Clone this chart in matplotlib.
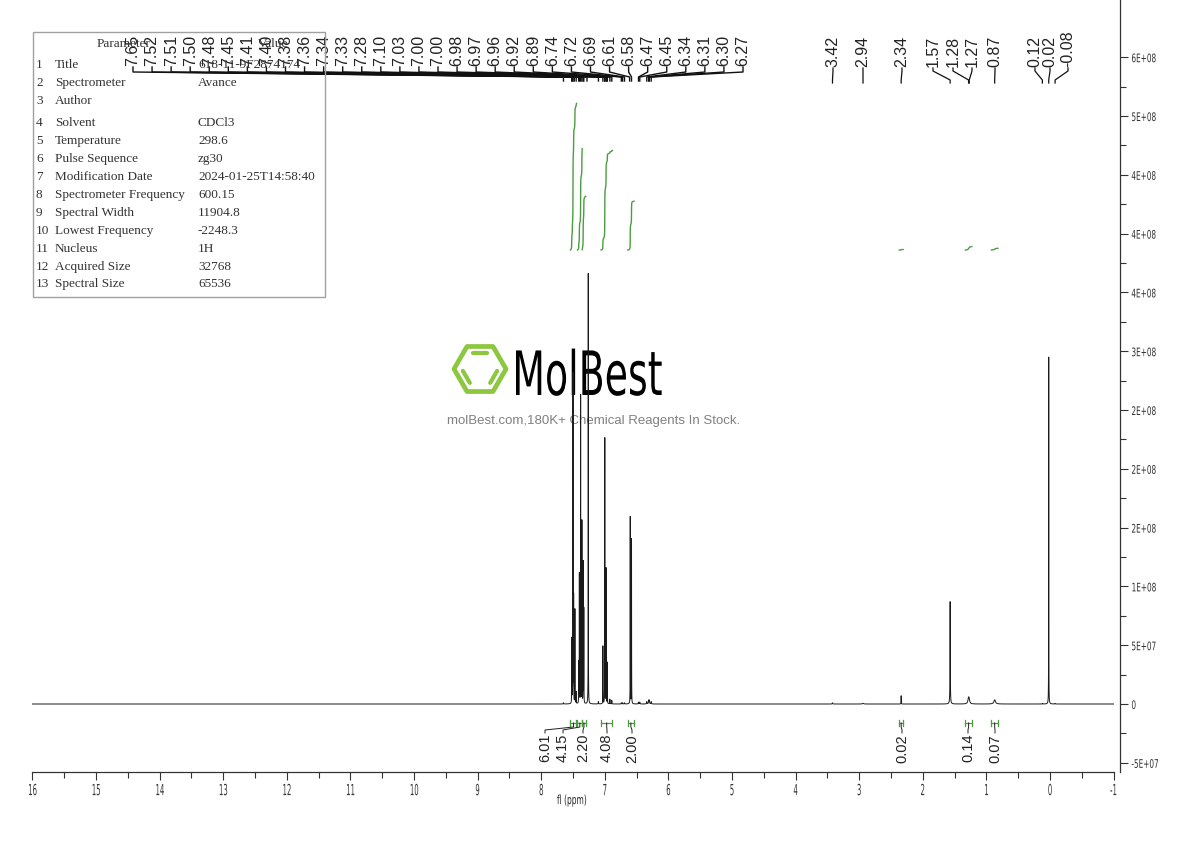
import numpy as np
import matplotlib
matplotlib.use("Agg")
import matplotlib.pyplot as plt
from matplotlib.patheffects import AbstractPathEffect
from matplotlib.transforms import Affine2D
from matplotlib.patches import Polygon, Rectangle
from matplotlib.lines import Line2D

plt.rcParams['path.simplify'] = False

# ---------------- data ----------------
peak_ppm = [7.65, 7.52, 7.51, 7.50, 7.49, 7.47, 7.45,
            7.41, 7.40, 7.38, 7.36, 7.34, 7.33,
            7.26, 7.10,
            7.03, 7.00, 6.98, 6.96, 6.92, 6.89,
            6.74, 6.72, 6.69,
            6.60, 6.58,
            6.47, 6.45, 6.34, 6.31, 6.30, 6.27,
            3.42, 2.94, 2.34, 1.57, 1.28, 1.27, 0.87, 0.12, 0.02, -0.08]
peak_height_1e8 = [0.01, 0.55, 0.45, 2.80, 0.90, 0.80, 0.10,
                   0.35, 1.10, 2.62, 1.55, 1.20, 0.80,
                   3.66, 0.02,
                   0.49, 2.26, 1.15, 0.35, 0.04, 0.03,
                   0.01, 0.01, 0.01,
                   1.59, 1.40,
                   0.015, 0.015, 0.02, 0.03, 0.03, 0.02,
                   0.01, 0.006, 0.07, 0.87, 0.05, 0.02, 0.035, 0.005, 2.95, 0.005]
peak_hwhm = [0.003, 0.0012, 0.0012, 0.0012, 0.0012, 0.0012, 0.0015,
             0.0012, 0.0012, 0.0012, 0.0012, 0.0012, 0.0012,
             0.0012, 0.003,
             0.0012, 0.0012, 0.0012, 0.0012, 0.002, 0.002,
             0.003, 0.003, 0.003,
             0.0012, 0.0012,
             0.004, 0.004, 0.004, 0.004, 0.004, 0.004,
             0.004, 0.01, 0.0015, 0.0025, 0.012, 0.01, 0.015, 0.003, 0.0012, 0.003]

left_shift_labels = [7.65, 7.52, 7.51, 7.50, 7.48, 7.45, 7.41, 7.40, 7.38, 7.36, 7.34,
                     7.33, 7.28, 7.10, 7.03, 7.00, 7.00, 6.98, 6.97, 6.96, 6.92, 6.89,
                     6.74, 6.72, 6.69, 6.61, 6.58, 6.47, 6.45, 6.34, 6.31, 6.30, 6.27]
right_shift_labels = [3.42, 2.94, 2.34, 1.57, 1.28, 1.27, 0.87, 0.12, 0.02, -0.08]

integral_regions = [(7.54, 7.445), (7.43, 7.355), (7.355, 7.30), (7.06, 6.88),
                    (6.64, 6.54), (2.37, 2.31), (1.33, 1.23), (0.92, 0.82)]
integral_values = [6.01, 4.15, 2.20, 4.08, 2.00, 0.02, 0.14, 0.07]

xtick_values = list(range(-1, 17))
ytick_values = [-5e7, 0, 5e7, 1e8, 1.5e8, 2e8, 2.5e8, 3e8, 3.5e8, 4e8, 4.5e8, 5e8, 5.5e8]
ytick_labels = ['-5E+07', '0', '5E+07', '1E+08', '2E+08', '2E+08', '2E+08',
                '3E+08', '4E+08', '4E+08', '4E+08', '5E+08', '6E+08']

param_names = ['Title', 'Spectrometer', 'Author', 'Solvent', 'Temperature', 'Pulse Sequence',
               'Modification Date', 'Spectrometer Frequency', 'Spectral Width',
               'Lowest Frequency', 'Nucleus', 'Acquired Size', 'Spectral Size']
param_values = ['618-11-9F2874174', 'Avance', '', 'CDCl3', '298.6', 'zg30',
                '2024-01-25T14:58:40', '600.15', '11904.8', '-2248.3', '1H', '32768', '65536']

# ---------------- layout helpers ----------------
W, H = 1190, 841
GREEN = '#4a9e3f'


def px2ppm(px):
    return (1050.0 - px) / 63.6


def py2val(py):
    return (704.0 - py) / 58.8 * 5e7


def fx(px):
    return px / W


def fy(py):
    return 1 - py / H


class Squeeze(AbstractPathEffect):
    """Horizontally condense glyphs (text stays real text)."""
    def __init__(self, sx, anchor='center'):
        super().__init__()
        self.sx = sx
        self.anchor = anchor

    def draw_path(self, renderer, gc, tpath, affine, rgbFace=None):
        ext = tpath.get_extents()
        if self.anchor == 'left':
            c = ext.x0
        elif self.anchor == 'right':
            c = ext.x1
        else:
            c = 0.5 * (ext.x0 + ext.x1)
        t = Affine2D().translate(-c, 0).scale(self.sx, 1).translate(c, 0)
        renderer.draw_path(gc, tpath, t + affine, rgbFace)


fig = plt.figure(figsize=(11.9, 8.41), dpi=100)
ax_l, ax_r, ax_b = 32.4, 1120.0, 772.0
ax = fig.add_axes([fx(ax_l), fy(ax_b), (ax_r - ax_l) / W, ax_b / H])
ax.set_xlim(px2ppm(ax_l), px2ppm(ax_r))
ax.set_ylim(py2val(ax_b), py2val(0))
ax.patch.set_visible(False)

# ---------------- spectrum ----------------
ppm = np.linspace(16.05, -1.0, 34101)
spec = np.zeros_like(ppm)
for p, h, w in zip(peak_ppm, peak_height_1e8, peak_hwhm):
    spec += h * 1e8 / (1.0 + ((ppm - p) / w) ** 2)
ax.plot(ppm, spec, color='#1a1a1a', lw=0.7, zorder=3)

# ---------------- integrals ----------------
unit = py2val(704 - 24.4) - py2val(704)
base = py2val(250)
for (a, b), v in zip(integral_regions, integral_values):
    m = (ppm <= a) & (ppm >= b)
    c = np.cumsum(spec[m])
    c = c / c[-1]
    ax.plot(ppm[m], base + c * v * unit, color=GREEN, lw=1.0, zorder=4)

integ_label_px = [545, 563, 583, 607, 632, 902, 968, 995]
yb = py2val(723)
for (a, b), v, lpx in zip(integral_regions, integral_values, integ_label_px):
    ax.plot([a, b], [yb, yb], color=GREEN, lw=0.9, clip_on=False)
    for e in (a, b):
        ax.plot([e, e], [py2val(720), py2val(726)], color=GREEN, lw=0.9, clip_on=False)
    cx = 0.5 * (a + b)
    lx = px2ppm(lpx)
    ax.plot([lx, lx, cx, cx], [py2val(733), py2val(730), py2val(727), yb],
            color='#222222', lw=0.7, clip_on=False)
    ax.text(lx, py2val(734), f"{v:.2f}", rotation=90, ha='center', va='top',
            fontsize=10.5, family='Liberation Sans', color='#222222')

# ---------------- peak labels ----------------
n = len(left_shift_labels)
for i, v in enumerate(left_shift_labels):
    lx = px2ppm(133 + i * (743 - 133) / (n - 1))
    ax.plot([lx, lx, v, v], [py2val(67), py2val(72), py2val(77), py2val(81)],
            color='#111111', lw=1.0, clip_on=False, zorder=5)
    ax.text(lx, py2val(66), f"{v:.2f}", rotation=90, ha='center', va='bottom',
            fontsize=11.5, family='Liberation Sans', color='#222222')

right_label_px = [833, 863, 902, 933, 953, 972, 995, 1035, 1050, 1068]
for v, lpx in zip(right_shift_labels, right_label_px):
    lx = px2ppm(lpx)
    ax.plot([lx, lx, v, v], [py2val(68), py2val(71), py2val(80), py2val(83)],
            color='#111111', lw=0.9, clip_on=False, zorder=5)
    ax.text(lx, py2val(67), f"{v:.2f}", rotation=90, ha='center', va='bottom',
            fontsize=11.5, family='Liberation Sans', color='#222222')

# ---------------- axes styling ----------------
for s in ('top', 'left'):
    ax.spines[s].set_visible(False)
ax.spines['bottom'].set_bounds(-1, 16)
for s in ('bottom', 'right'):
    ax.spines[s].set_color('#333333')
    ax.spines[s].set_linewidth(0.9)

ax.set_xticks(xtick_values)
ax.set_xticklabels([str(t) for t in xtick_values])
ax.set_xticks([t + 0.5 for t in xtick_values[:-1]], minor=True)
ax.yaxis.tick_right()
ax.set_yticks(ytick_values)
ax.set_yticklabels(ytick_labels)
ax.set_yticks([t + 2.5e7 for t in ytick_values[:-1]], minor=True)
ax.tick_params(axis='x', which='major', direction='out', length=6, width=0.8,
               colors='#333333', labelsize=11, pad=2)
ax.tick_params(axis='x', which='minor', direction='out', length=4, width=0.8, colors='#333333')
ax.tick_params(axis='y', which='major', direction='out', length=6, width=0.8,
               colors='#333333', labelsize=8.5, pad=2)
ax.tick_params(axis='y', which='minor', direction='out', length=4, width=0.8, colors='#333333')
for t in ax.get_xticklabels():
    t.set_path_effects([Squeeze(0.45)])
for t in ax.get_yticklabels():
    t.set_path_effects([Squeeze(0.62, 'left')])

xl = ax.set_xlabel('fl (ppm)', fontsize=9, color='#222222')
xl.set_path_effects([Squeeze(0.6)])
ax.xaxis.set_label_coords((572 - ax_l) / (ax_r - ax_l), (ax_b - 794) / ax_b)

# ---------------- parameter table ----------------
fig.add_artist(Rectangle((fx(33), fy(297)), (325 - 33) / W, (297 - 32) / H,
                         transform=fig.transFigure, fill=False,
                         edgecolor='#a0a0a0', lw=1.0))
tkw = dict(fontsize=9.5, family='Liberation Serif', color='#333333', va='center')
fig.text(fx(97), fy(44), 'Parameter', **tkw)
fig.text(fx(258), fy(44), 'Value', **tkw)
row_py = [65, 83, 101, 123, 141, 159, 177, 195, 213, 231, 249, 267, 284]
for i, (nm, vl) in enumerate(zip(param_names, param_values)):
    fig.text(fx(36), fy(row_py[i]), str(i + 1), **tkw)
    fig.text(fx(55), fy(row_py[i]), nm, **tkw)
    fig.text(fx(198), fy(row_py[i]), vl, **tkw)

# ---------------- watermark ----------------
LIME = '#8dc63f'
hx, hy, R = 480, 369, 26
ang = np.deg2rad(np.arange(0, 360, 60))
vx = hx + R * np.cos(ang)
vy = hy - R * np.sin(ang)
fig.add_artist(Polygon(np.column_stack([fx(vx), fy(vy)]), closed=True, fill=False,
                       edgecolor=LIME, lw=3.4, joinstyle='round',
                       transform=fig.transFigure, zorder=-1))
k, trim = 0.70, 0.12
for i, j in [(1, 2), (3, 4), (5, 0)]:
    p1 = np.array([hx + k * R * np.cos(ang[i]), hy - k * R * np.sin(ang[i])])
    p2 = np.array([hx + k * R * np.cos(ang[j]), hy - k * R * np.sin(ang[j])])
    a1 = p1 + trim * (p2 - p1)
    a2 = p2 - trim * (p2 - p1)
    fig.add_artist(Line2D([fx(a1[0]), fx(a2[0])], [fy(a1[1]), fy(a2[1])], color=LIME,
                          lw=3.0, solid_capstyle='round', transform=fig.transFigure, zorder=-1))
fig.text(fx(510), fy(395), 'MolBest', fontsize=44, family='DejaVu Sans', color='black',
         ha='left', va='baseline', zorder=-1, path_effects=[Squeeze(0.62, 'left')])
fig.text(fx(594), fy(421), 'molBest.com,180K+ Chemical Reagents In Stock.', ha='center',
         va='center', fontsize=9.5, color='#808080', family='Liberation Sans', zorder=-1)

fig.savefig('out.png', dpi=100)
